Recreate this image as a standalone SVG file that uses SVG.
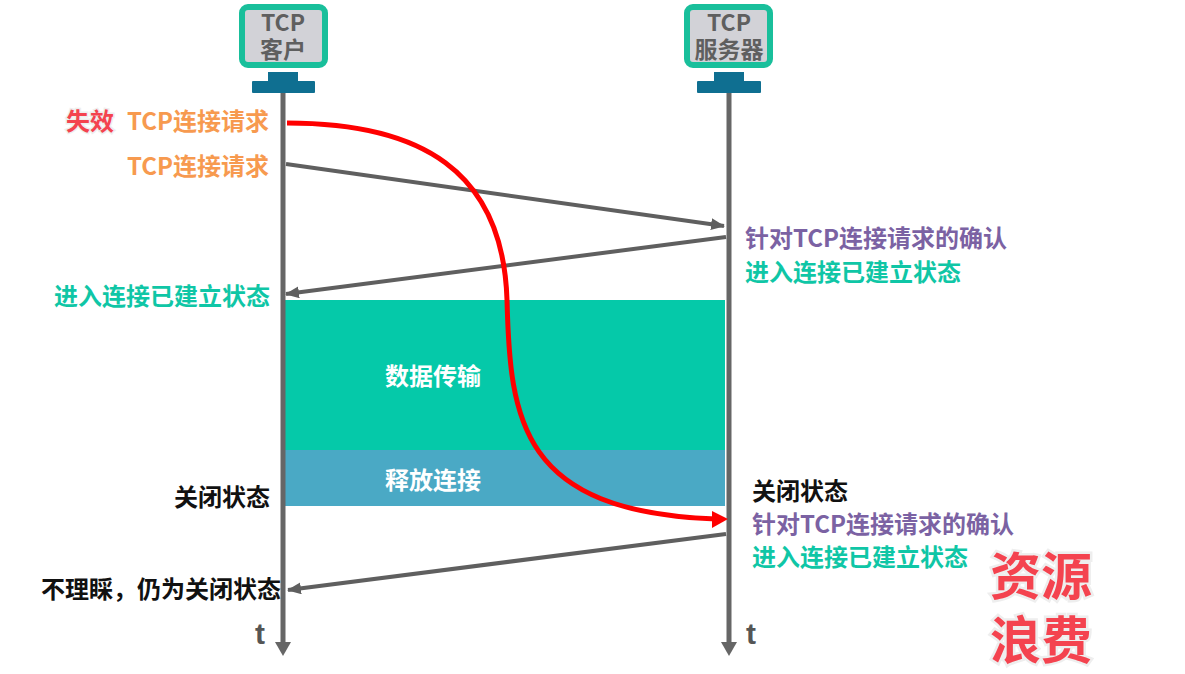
<svg xmlns="http://www.w3.org/2000/svg" width="1185" height="674" viewBox="0 0 1185 674">
<style>
text{font-family:"Noto Sans CJK SC","Liberation Sans",sans-serif;font-size:24px;font-weight:700}
.o{fill:#f79a4f}.p{fill:#7b62a3}.g{fill:#0fc6a6}.k{fill:#111}.w{fill:#fff}
.h{fill:#5f5f5f;text-anchor:middle;font-size:23px}
.scr{fill:#d2d2d7;stroke:#19bf9b;stroke-width:6}
.b{fill:#0f6f91}
.ln{stroke:#666;stroke-width:5;fill:none}
.m{stroke:#5f5f5f;stroke-width:4;fill:none}
.big{font-size:51px;fill:#f4434f;stroke:#eee;stroke-width:5;paint-order:stroke}
.tt{font-family:"Liberation Sans",sans-serif;font-size:30px;fill:#555}
</style>
<defs>
<marker id="a" markerUnits="userSpaceOnUse" markerWidth="14" markerHeight="12" refX="13" refY="6" orient="auto"><path d="M0 0L14 6L0 12z" fill="#5f5f5f"/></marker>
</defs>
<rect width="1185" height="674" fill="#fff"/>
<g id="areas">
<rect id="data-transfer" x="285" y="300" width="440" height="150" fill="#05c9a9"/>
<rect id="release" x="285" y="450" width="440" height="56" fill="#4aa9c5"/>
<text class="w" x="385" y="385">数据传输</text>
<text class="w" x="385" y="489">释放连接</text>
</g>
<g id="client">
<rect class="scr" x="242" y="7" width="83" height="58" rx="6"/>
<text class="h"><tspan x="283" y="31">TCP</tspan><tspan x="283" y="58">客户</tspan></text>
<rect class="b" x="268" y="72" width="30" height="12"/>
<rect class="b" x="252" y="81" width="63" height="12" rx="1"/>
</g>
<g id="server">
<rect class="scr" x="687" y="7" width="83" height="58" rx="6"/>
<text class="h"><tspan x="729" y="31">TCP</tspan><tspan x="729" y="58">服务器</tspan></text>
<rect class="b" x="714" y="72" width="30" height="12"/>
<rect class="b" x="697" y="81" width="64" height="12" rx="1"/>
</g>
<g id="connectors">
<path d="M283 93V645" class="ln"/><path d="M275 642H291L283 656z" fill="#666"/>
<path d="M729 93V645" class="ln"/><path d="M721 642H737L729 656z" fill="#666"/>
<path d="M286 164L724 226" class="m" marker-end="url(#a)"/>
<path d="M726 237L286 294" class="m" marker-end="url(#a)"/>
<path d="M726 534L288 590" class="m" marker-end="url(#a)"/>
<path d="M287 123C420 123 503 170 507 300C510 420 520 512 716 519" fill="none" stroke="#f00" stroke-width="5"/>
<path d="M712 511L728 519L712 528z" fill="#f00"/>
</g>
<g id="labels">
<text class="big" x="66" y="130" style="font-size:24px;stroke-width:3">失效</text>
<text class="o" x="127" y="130">TCP连接请求</text>
<text class="o" x="127" y="175">TCP连接请求</text>
<text class="p" x="745" y="247">针对TCP连接请求的确认</text>
<text class="g" x="745" y="281">进入连接已建立状态</text>
<text class="g" x="54" y="305">进入连接已建立状态</text>
<text class="k" x="174" y="506">关闭状态</text>
<text class="k" x="752" y="500">关闭状态</text>
<text class="p" x="752" y="533">针对TCP连接请求的确认</text>
<text class="g" x="752" y="566">进入连接已建立状态</text>
<text class="k" x="41" y="598">不理睬，仍为关闭状态</text>
<text class="tt" x="255" y="644">t</text>
<text class="tt" x="746" y="644">t</text>
<text class="big"><tspan x="990" y="595">资源</tspan><tspan x="990" y="659">浪费</tspan></text>
</g>
</svg>
